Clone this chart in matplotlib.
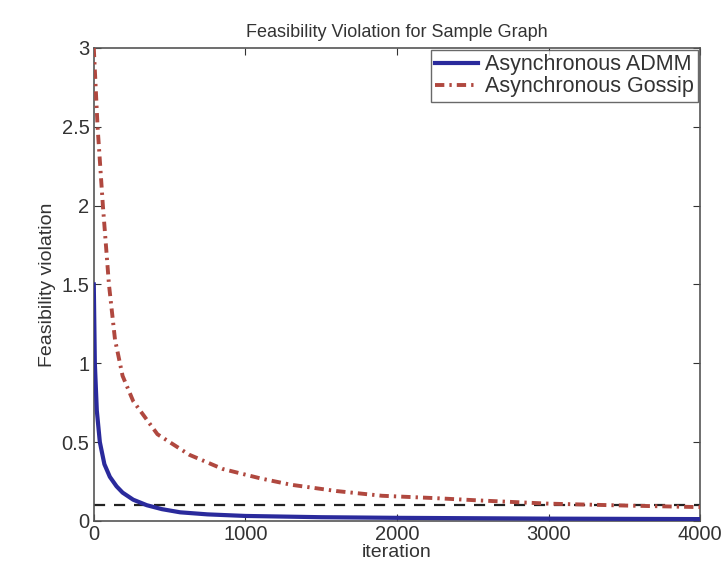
import numpy as np
import matplotlib.pyplot as plt

plt.rcParams['font.family'] = ['Liberation Sans', 'DejaVu Sans']

# values
admm_iter = [0, 7, 20, 40, 70, 106, 150, 190, 260, 350, 450, 570, 750, 1000, 1500, 2000, 3000, 4000]
admm_viol = [1.5, 1.0, 0.7, 0.5, 0.36, 0.28, 0.22, 0.18, 0.135, 0.1, 0.075, 0.055, 0.042, 0.032, 0.024, 0.02, 0.015, 0.012]

gossip_iter = [0, 25, 60, 100, 140, 190, 260, 420, 630, 850, 1100, 1300, 1600, 1900, 2250, 2550, 3000, 3500, 4000]
gossip_viol = [3.0, 2.5, 2.0, 1.5, 1.15, 0.92, 0.76, 0.55, 0.42, 0.33, 0.27, 0.23, 0.19, 0.16, 0.145, 0.13, 0.11, 0.098, 0.088]

threshold = 0.1
x_ticks = [0, 1000, 2000, 3000, 4000]
y_ticks = [0, 0.5, 1, 1.5, 2, 2.5, 3]
y_labels = ['0', '0.5', '1', '1.5', '2', '2.5', '3']

fig = plt.figure(figsize=(7.27, 5.76), dpi=100)
ax = fig.add_axes([0.129, 0.0955, 0.834, 0.8215])

ax.plot(admm_iter, admm_viol, color='#2a2a9c', lw=3, label='Asynchronous ADMM', zorder=3)
ax.plot(gossip_iter, gossip_viol, color='#b0483f', lw=2.8, linestyle=(0, (2.4, 1.3, 0.6, 1.3)),
        label='Asynchronous Gossip', zorder=3)
ax.axhline(threshold, color='#222222', lw=1.6, linestyle=(0, (5, 4)), zorder=2)

ax.set_xlim(0, 4000)
ax.set_ylim(0, 3)
ax.set_xticks(x_ticks)
ax.set_yticks(y_ticks)
ax.set_yticklabels(y_labels)
ax.tick_params(direction='in', top=True, right=True, length=5, labelsize=14.5,
               colors='#333333', pad=3)
for s in ax.spines.values():
    s.set_color('#555555')
    s.set_linewidth(1.2)

ax.set_title('Feasibility Violation for Sample Graph', fontsize=13, color='#333333', pad=8)
ax.set_xlabel('iteration', fontsize=14, color='#333333', labelpad=0)
ax.set_ylabel('Feasibility violation', fontsize=14, color='#333333', labelpad=4)

leg = ax.legend(loc='upper right', fontsize=15.5, frameon=True, fancybox=False,
                handlelength=2.0, handletextpad=0.3, borderpad=0.2, labelspacing=0.05,
                borderaxespad=0.1)
leg.get_frame().set_edgecolor('#444444')
leg.get_frame().set_linewidth(1.0)
for t in leg.get_texts():
    t.set_color('#333333')

fig.savefig('out.png', dpi=100)
